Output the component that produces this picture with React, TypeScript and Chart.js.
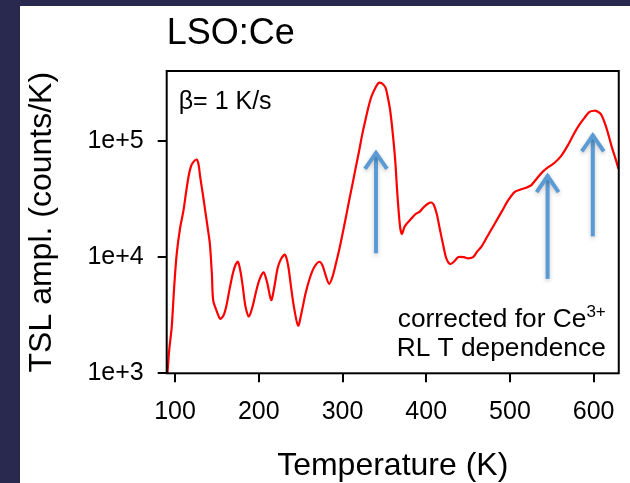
import React, { useEffect, useRef } from "react";
import { Chart, registerables } from "chart.js";

Chart.register(...registerables);

// ---- data ----
const temperatures = [
  90.9, 93, 96, 99, 102, 106, 110, 113, 116, 119, 122, 125.7, 128, 130, 133, 135.6, 139, 141.6, 144, 145.5,
  149.5, 154, 158, 161, 165, 169, 172, 175, 178, 181, 184, 188, 192, 197, 201, 205.7, 210, 214.8, 218, 222.7,
  227, 231.4, 235, 238.6, 242, 247, 251, 256, 261, 266, 272, 276, 280, 284, 288, 292, 296, 300, 304, 308,
  312, 315.8, 320, 323.7, 328, 331.6, 335, 339.5, 343, 345.5, 348, 351.4, 354, 357, 360, 363, 365, 367, 369, 371,
  374, 377, 382, 387, 392, 397, 402, 406, 409, 412.7, 416, 420.7, 424, 428.6, 433, 438.5, 445, 450, 456, 461,
  466, 474, 482, 490, 498, 505.5, 512, 520, 525.6, 533.6, 540, 545, 553, 561, 569, 577, 583, 589, 595, 600.8,
  604, 608.7, 614, 618.6, 622, 626, 629.7,
];
const tslAmplitude = [
  1000, 1585, 2512, 5623, 10700, 17800, 25100, 35500, 49000, 60300, 66000, 69200, 63100, 49000, 35500, 26300, 17800, 12900, 7080, 4270,
  3470, 2950, 3160, 3720, 5250, 7240, 8510, 9120, 7590, 5500, 3800, 3090, 3630, 5130, 6460, 7410, 6030, 4270, 5250, 8130,
  9770, 10500, 8510, 5500, 3720, 2570, 3310, 4900, 6610, 8130, 9120, 8510, 6920, 5890, 6760, 8710, 11500, 15800, 21900, 30900,
  42700, 58900, 83200, 115000, 158000, 204000, 245000, 288000, 316000, 316000, 309000, 288000, 240000, 182000, 117000, 67600, 39800, 25100, 17800, 15800,
  18200, 19500, 21400, 23400, 24500, 26900, 28800, 29500, 28200, 23400, 17800, 12300, 9770, 8710, 9120, 10000, 10000, 9770, 10000, 11200,
  12300, 15500, 19500, 24500, 30900, 36300, 38000, 39800, 41700, 49000, 55000, 58900, 64600, 74100, 91200, 117000, 138000, 158000, 178000, 182000,
  180000, 170000, 138000, 107000, 87100, 70800, 57500,
];

const xTickValues = [100, 200, 300, 400, 500, 600];
const yTickValues = [1000, 10000, 100000];
const yTickLabels = ["1e+3", "1e+4", "1e+5"];

const arrowTemps = [340, 545, 599];
const arrowFrom = [10800, 6500, 15100];
const arrowTo = [82000, 51800, 116000];

const titleText = "LSO:Ce";
const xTitle = "Temperature (K)";
const yTitle = "TSL ampl. (counts/K)";
const rateLabel = "β= 1 K/s";
const noteLine1 = "corrected for Ce";
const noteSup = "3+";
const noteLine2 = "RL T dependence";

const FONT = "'Liberation Sans', Arial, Helvetica, sans-serif";
const NAVY = "#29284f";
const ARROW = "#5b9bd5";

const decor = {
  id: "decor",
  beforeDraw(chart: any) {
    const ctx = chart.ctx;
    ctx.save();
    ctx.fillStyle = "#ffffff";
    ctx.fillRect(0, 0, chart.width, chart.height);
    ctx.fillStyle = NAVY;
    ctx.fillRect(0, 0, 20, chart.height);
    ctx.fillRect(0, 0, chart.width, 6);
    ctx.restore();
  },
  afterDatasetsDraw(chart: any) {
    const { ctx, chartArea: a, scales } = chart;
    const x = scales.x;
    const y = scales.y;
    ctx.save();
    // box
    ctx.strokeStyle = "#000";
    ctx.lineWidth = 2;
    ctx.strokeRect(a.left, a.top, a.right - a.left, a.bottom - a.top);

    // arrows
    ctx.strokeStyle = ARROW;
    ctx.lineWidth = 4;
    ctx.lineCap = "butt";
    ctx.lineJoin = "miter";
    ctx.shadowColor = "rgba(0,0,0,0.22)";
    ctx.shadowBlur = 4;
    ctx.shadowOffsetY = 2;
    for (let i = 0; i < arrowTemps.length; i++) {
      const px = x.getPixelForValue(arrowTemps[i]);
      const y0 = y.getPixelForValue(arrowFrom[i]);
      const y1 = y.getPixelForValue(arrowTo[i]);
      ctx.beginPath();
      ctx.moveTo(px, y0);
      ctx.lineTo(px, y1 + 1);
      ctx.stroke();
      ctx.beginPath();
      ctx.moveTo(px - 11, y1 + 18);
      ctx.lineTo(px, y1 + 2);
      ctx.lineTo(px + 11, y1 + 18);
      ctx.stroke();
    }
    ctx.shadowColor = "transparent";
    ctx.shadowBlur = 0;
    ctx.shadowOffsetY = 0;

    // texts
    ctx.fillStyle = "#000";
    ctx.textBaseline = "alphabetic";
    ctx.textAlign = "left";
    ctx.font = `36px ${FONT}`;
    ctx.fillText(titleText, a.left, 44);

    ctx.font = `25px ${FONT}`;
    ctx.fillText(rateLabel, a.left + 12, a.top + 38);

    ctx.font = `26.3px ${FONT}`;
    ctx.textAlign = "right";
    const rightX = a.right - 13;
    ctx.fillText(noteLine2, rightX, a.bottom - 17);
    ctx.font = `17px ${FONT}`;
    const supW = ctx.measureText(noteSup).width;
    ctx.fillText(noteSup, rightX, a.bottom - 56);
    ctx.font = `26.3px ${FONT}`;
    ctx.fillText(noteLine1, rightX - supW, a.bottom - 46);
    ctx.restore();
  },
};

export default function App() {
  const ref = useRef<HTMLCanvasElement>(null);
  useEffect(() => {
    if (!ref.current) return;
    const chart = new Chart(ref.current, {
      type: "line",
      data: {
        datasets: [
          {
            label: "TSL",
            data: temperatures.map((t, i) => ({ x: t, y: tslAmplitude[i] })),
            borderColor: "#ff0000",
            borderWidth: 2.2,
            pointRadius: 0,
            fill: false,
            tension: 0.3,
          },
        ],
      },
      options: {
        animation: false,
        responsive: false,
        maintainAspectRatio: false,
        layout: { padding: { left: 20, top: 71, right: 9, bottom: 0 } },
        plugins: {
          legend: { display: false },
          tooltip: { enabled: false },
          title: { display: false },
        },
        scales: {
          x: {
            type: "linear",
            min: 90,
            max: 630,
            afterBuildTicks: (s: any) => {
              s.ticks = xTickValues.map((v) => ({ value: v }));
            },
            afterFit: (s: any) => {
              s.height = 109.7;
            },
            grid: { display: true, drawOnChartArea: false, drawTicks: true, tickLength: 9, color: "#000", lineWidth: 2 },
            border: { display: false },
            ticks: { color: "#000", font: { family: FONT, size: 25 }, padding: 15, maxRotation: 0, autoSkip: false },
            title: { display: true, text: xTitle, color: "#000", font: { family: FONT, size: 32 }, padding: { top: 0, bottom: -2 } },
          },
          y: {
            type: "logarithmic",
            min: 1000,
            max: 400000,
            afterBuildTicks: (s: any) => {
              s.ticks = yTickValues.map((v) => ({ value: v }));
            },
            afterFit: (s: any) => {
              s.width = 146.7;
            },
            grid: { display: true, drawOnChartArea: false, drawTicks: true, tickLength: 9, color: "#000", lineWidth: 2 },
            border: { display: false },
            ticks: {
              color: "#000",
              font: { family: FONT, size: 25 },
              padding: 14,
              autoSkip: false,
              callback: (v: any) => {
                const i = yTickValues.indexOf(Number(v));
                return i >= 0 ? yTickLabels[i] : "";
              },
            },
            title: { display: true, text: yTitle, color: "#000", font: { family: FONT, size: 32 }, padding: { top: 3, bottom: 0 } },
          },
        },
      },
      plugins: [decor],
    });
    return () => chart.destroy();
  }, []);
  return (
    <div style={{ position: "fixed", left: 0, top: 0, width: 630, height: 483 }}>
      <canvas ref={ref} width={630} height={483} style={{ display: "block", width: 630, height: 483 }} />
    </div>
  );
}
